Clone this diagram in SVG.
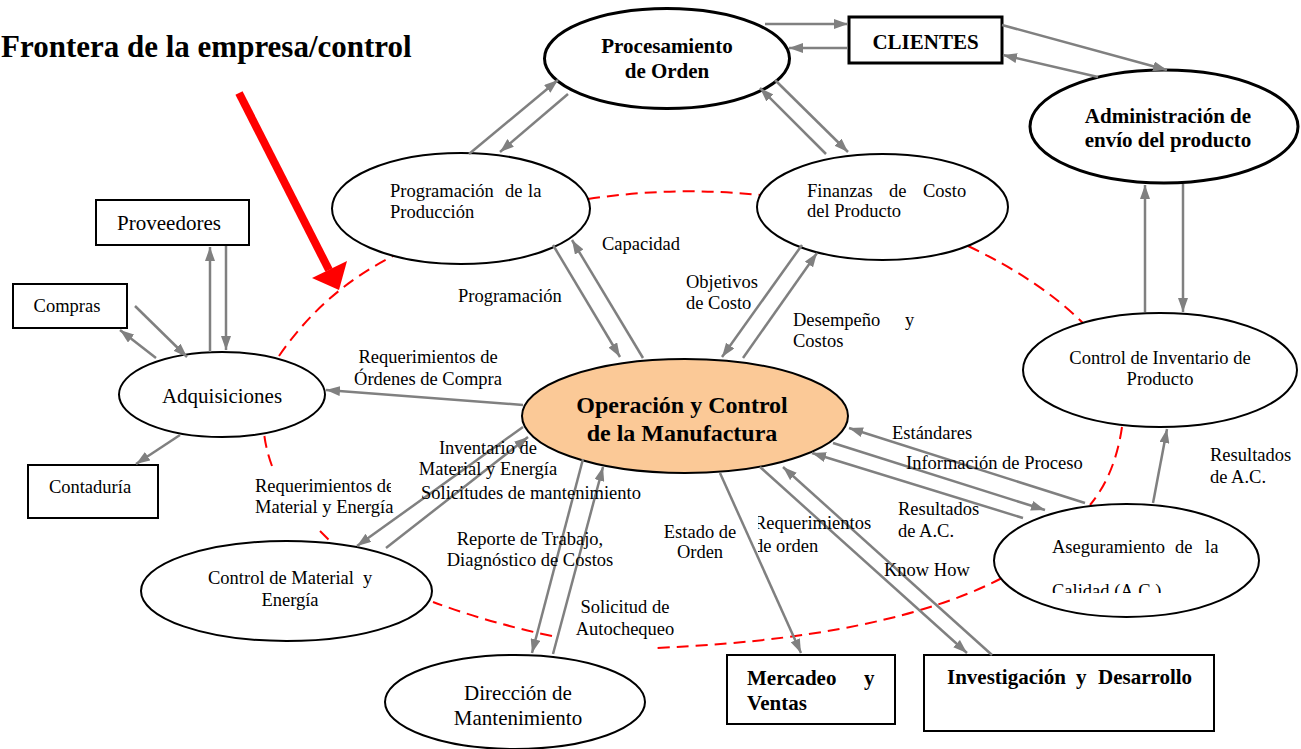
<svg xmlns="http://www.w3.org/2000/svg" width="1301" height="749" viewBox="0 0 1301 749">
<style>
text{font-family:"Liberation Serif","Times New Roman",serif;fill:#000}
.r{font-size:18.5px}
.n{font-size:21px}
.b{font-size:21px;font-weight:bold}
.m{text-anchor:middle}
.node{fill:#fff;stroke:#000;stroke-width:2}
.thick{stroke-width:3}
.c{stroke:#808080;stroke-width:2.5;fill:none;marker-end:url(#ah)}
.d{stroke:#ff0000;stroke-width:2;fill:none;stroke-dasharray:12 7}
</style>
<defs>
<marker id="ah" viewBox="0 0 14 10" refX="14" refY="5" markerWidth="14" markerHeight="10" markerUnits="userSpaceOnUse" orient="auto"><path d="M0,0 L14,5 L0,10 z" fill="#808080"/></marker>
<clipPath id="clipReq"><rect x="0" y="470" width="391" height="60"/></clipPath>
<clipPath id="clipOrd"><rect x="758" y="505" width="200" height="60"/></clipPath>
<clipPath id="clipCal"><rect x="1000" y="570" width="250" height="23"/></clipPath>
</defs>
<rect width="1301" height="749" fill="#fff"/>

<g id="boundary">
<path class="d" d="M588 199 Q675 186 760 195"/>
<path class="d" d="M968 246 Q1040 280 1085 325"/>
<path class="d" d="M1122 427 Q1115 475 1090 505"/>
<path class="d" d="M1002 578 C950 605 850 640 655 648"/>
<path class="d" d="M552 636 Q490 623 433 602"/>
<path class="d" d="M320 531 L334 545"/>
<path class="d" d="M272 466 Q266 450 264 433"/>
<path class="d" d="M279 356 Q305 318 340 290 Q365 270 395 255"/>
</g>

<g id="title">
<text x="1" y="57" style="font-size:31px;font-weight:bold">Frontera de la empresa/control</text>
<line x1="239" y1="93" x2="329" y2="270" stroke="#ff0000" stroke-width="8"/>
<polygon points="312,278 347,261 339,290" fill="#ff0000"/>
</g>

<g id="procesamiento">
<ellipse class="node thick" cx="667" cy="58.5" rx="122.5" ry="50"/>
<text class="b m" x="667" y="53">Procesamiento</text>
<text class="b m" x="667" y="78">de Orden</text>
</g>
<g id="clientes">
<rect class="node thick" x="849" y="17" width="153" height="46"/>
<text class="b m" x="925.5" y="49">CLIENTES</text>
</g>
<g id="administracion">
<ellipse class="node thick" cx="1164" cy="126.5" rx="134" ry="56.5"/>
<text class="b m" x="1168" y="123">Administración de</text>
<text class="b m" x="1168" y="147">envío del producto</text>
</g>
<g id="programacion">
<ellipse class="node" cx="461" cy="208.5" rx="129" ry="55.5"/>
<text class="r" y="197"><tspan x="390">Programación</tspan><tspan x="505">de</tspan><tspan x="528">la</tspan></text>
<text class="r" x="390" y="218">Producción</text>
</g>
<g id="finanzas">
<ellipse class="node" cx="882.5" cy="207" rx="125.5" ry="53"/>
<text class="r" y="197"><tspan x="807">Finanzas</tspan><tspan x="889">de</tspan><tspan x="923">Costo</tspan></text>
<text class="r" x="807" y="217">del Producto</text>
</g>
<g id="proveedores">
<rect class="node" x="96" y="200" width="153" height="45"/>
<text class="n m" x="169" y="230">Proveedores</text>
</g>
<g id="compras">
<rect class="node" x="13" y="284" width="114" height="44"/>
<text class="r m" x="67" y="312">Compras</text>
</g>
<g id="adquisiciones">
<ellipse class="node" cx="222" cy="394.5" rx="103" ry="42.5"/>
<text class="n m" x="222" y="403">Adquisiciones</text>
</g>
<g id="contaduria">
<rect class="node" x="28" y="465" width="130" height="53"/>
<text class="r m" x="90" y="493">Contaduría</text>
</g>
<g id="operacion">
<ellipse cx="685" cy="416" rx="163" ry="57" fill="#fbc997" stroke="#000" stroke-width="2"/>
<text class="m" x="682" y="413" style="font-size:24px;font-weight:bold">Operación y Control</text>
<text class="m" x="682" y="441" style="font-size:24px;font-weight:bold">de la Manufactura</text>
</g>
<g id="control-inventario">
<ellipse class="node" cx="1160" cy="370" rx="137" ry="57"/>
<text class="r m" x="1160" y="364">Control de Inventario de</text>
<text class="r m" x="1160" y="385">Producto</text>
</g>
<g id="aseguramiento">
<ellipse class="node" cx="1126.5" cy="560.5" rx="132.5" ry="56.5"/>
<text class="r" y="553"><tspan x="1052">Aseguramiento</tspan><tspan x="1175">de</tspan><tspan x="1205">la</tspan></text>
<text class="r" x="1052" y="597" clip-path="url(#clipCal)">Calidad (A.C.)</text>
</g>
<g id="control-material">
<ellipse class="node" cx="286.5" cy="591" rx="145.5" ry="50"/>
<text class="r" y="584"><tspan x="208">Control de Material</tspan><tspan x="363">y</tspan></text>
<text class="r m" x="290" y="606">Energía</text>
</g>
<g id="direccion">
<ellipse class="node" cx="515" cy="702" rx="130" ry="47"/>
<text class="n m" x="518" y="700">Dirección de</text>
<text class="n m" x="518" y="725">Mantenimiento</text>
</g>
<g id="mercadeo">
<rect class="node" x="727" y="655" width="168" height="69"/>
<text class="b" y="685"><tspan x="747">Mercadeo</tspan><tspan x="864">y</tspan></text>
<text class="b" x="747" y="710">Ventas</text>
</g>
<g id="investigacion">
<rect class="node" x="924" y="655" width="290" height="76"/>
<text class="b" y="684"><tspan x="947">Investigación</tspan><tspan x="1076">y</tspan><tspan x="1098">Desarrollo</tspan></text>
</g>

<g id="connectors">
<line class="c" x1="765" y1="24" x2="848" y2="24"/>
<line class="c" x1="848" y1="48" x2="789" y2="48"/>
<line class="c" x1="1002" y1="25" x2="1167" y2="70"/>
<line class="c" x1="1098" y1="77" x2="1003" y2="55"/>
<line class="c" x1="469" y1="154" x2="558" y2="80"/>
<line class="c" x1="568" y1="94" x2="500" y2="152"/>
<line class="c" x1="775" y1="80" x2="848" y2="152"/>
<line class="c" x1="826" y1="154" x2="760" y2="88"/>
<line class="c" x1="1145" y1="312" x2="1145" y2="185"/>
<line class="c" x1="1183" y1="184" x2="1183" y2="312"/>
<line class="c" x1="553" y1="245" x2="620" y2="357"/>
<line class="c" x1="643" y1="358" x2="572" y2="240"/>
<line class="c" x1="802" y1="245" x2="722" y2="357"/>
<line class="c" x1="743" y1="358" x2="817" y2="253"/>
<line class="c" x1="523" y1="405" x2="326" y2="390"/>
<line class="c" x1="210" y1="352" x2="210" y2="247"/>
<line class="c" x1="226" y1="246" x2="226" y2="350"/>
<line class="c" x1="135" y1="306" x2="187" y2="357"/>
<line class="c" x1="156" y1="358" x2="120" y2="330"/>
<line class="c" x1="180" y1="435" x2="136" y2="464"/>
<line class="c" x1="523" y1="427" x2="357" y2="546"/>
<line class="c" x1="386" y1="548" x2="528" y2="437"/>
<line class="c" x1="583" y1="459" x2="532" y2="653"/>
<line class="c" x1="553" y1="654" x2="603" y2="467"/>
<line class="c" x1="720" y1="473" x2="801" y2="653"/>
<line class="c" x1="760" y1="467" x2="967" y2="653"/>
<line class="c" x1="992" y1="655" x2="783" y2="467"/>
<line class="c" x1="1085" y1="503" x2="849" y2="428"/>
<line class="c" x1="833" y1="443" x2="1045" y2="510"/>
<line class="c" x1="1023" y1="518" x2="812" y2="453"/>
<line class="c" x1="1153" y1="503" x2="1167" y2="429"/>
</g>

<g id="labels" class="r">
<text class="r" x="602" y="250">Capacidad</text>
<text class="r" x="458" y="302">Programación</text>
<text class="r" x="686" y="288">Objetivos</text>
<text class="r" x="686" y="309">de Costo</text>
<text class="r" y="326"><tspan x="793">Desempeño</tspan><tspan x="905">y</tspan></text>
<text class="r" x="793" y="347">Costos</text>
<text class="r m" x="428" y="363">Requerimientos de</text>
<text class="r m" x="428" y="385">Órdenes de Compra</text>
<text class="r m" x="488" y="454">Inventario de</text>
<text class="r m" x="488" y="475">Material y Energía</text>
<text class="r" x="421" y="499">Solicitudes de mantenimiento</text>
<text class="r" x="255" y="492" clip-path="url(#clipReq)">Requerimientos de</text>
<text class="r" x="255" y="513">Material y Energía</text>
<text class="r m" x="530" y="545">Reporte de Trabajo,</text>
<text class="r m" x="530" y="566">Diagnóstico de Costos</text>
<text class="r m" x="625" y="613">Solicitud de</text>
<text class="r m" x="625" y="635">Autochequeo</text>
<text class="r m" x="700" y="538">Estado de</text>
<text class="r m" x="700" y="558">Orden</text>
<g clip-path="url(#clipOrd)">
<text class="r" x="754" y="529">Requerimientos</text>
<text class="r" x="754" y="552">de orden</text>
</g>
<text class="r" x="898" y="515">Resultados</text>
<text class="r" x="898" y="537">de A.C.</text>
<text class="r" x="884" y="576">Know How</text>
<text class="r" x="892" y="439">Estándares</text>
<text class="r" x="906" y="469">Información de Proceso</text>
<text class="r" x="1210" y="461">Resultados</text>
<text class="r" x="1210" y="483">de A.C.</text>
</g>
</svg>
